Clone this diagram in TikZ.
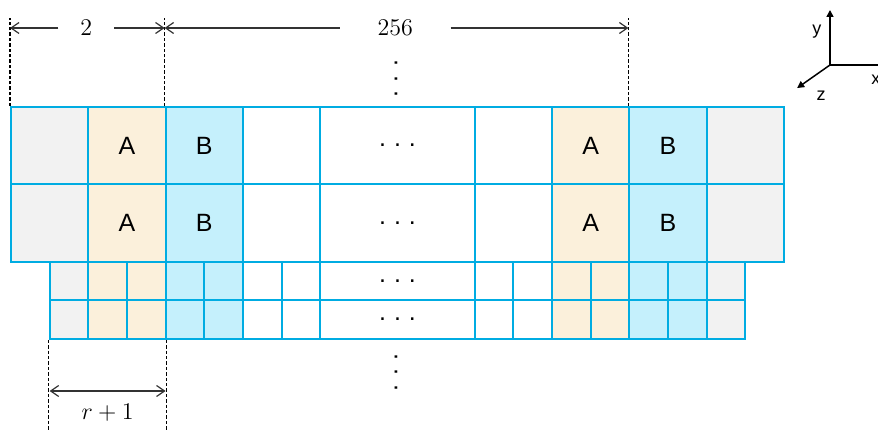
\documentclass[tikz,border=0pt]{standalone}
\usepackage{fontspec}
\usetikzlibrary{arrows.meta}
\newfontfamily\cellsans{Liberation Sans}
\definecolor{gridblue}{RGB}{0,172,226}
\definecolor{sandfill}{RGB}{251,240,219}
\definecolor{bluefill}{RGB}{197,240,252}
\definecolor{greyfill}{RGB}{242,242,242}
\newcommand{\rowdots}{.\hspace{4pt}.\hspace{4pt}.}
\tikzset{
  cell/.style={draw=gridblue, line width=1pt, inner sep=0pt, font=\cellsans\fontsize{12.5}{15}\selectfont},
  greycell/.style={cell, fill=greyfill},
  sandcell/.style={cell, fill=sandfill},
  bluecell/.style={cell, fill=bluefill},
  plaincell/.style={cell, fill=white},
  dimline/.style={line width=0.6pt, dash pattern=on 1.7pt off 1pt},
  dimarrow/.style={-{Straight Barb[length=4pt,width=5.5pt]}, line width=0.6pt, draw=black!80},
  dimboth/.style={{Straight Barb[length=4pt,width=5.5pt]}-{Straight Barb[length=4pt,width=5.5pt]}, line width=0.6pt, draw=black!80},
  dimlabel/.style={inner sep=0pt, font=\fontsize{12}{14}\selectfont},
  axis/.style={-{Triangle[length=3.5pt,width=3.5pt]}, line width=0.75pt},
  axislabel/.style={inner sep=0pt, font=\cellsans\fontsize{9}{11}\selectfont},
  dotcol/.style={inner sep=0pt, rotate=90, font=\cellsans\fontsize{12.5}{15}\selectfont}
}
\begin{document}
\begin{tikzpicture}[x=19.325pt, y=-19.325pt]
\useasboundingbox (-0.2846,-2.7684) rectangle (22.432,8.4347);
% two full-height rows
\foreach \row/\yc in {1/1, 2/3}
  \foreach \col/\xc/\w/\kind/\txt in {gl/1/2/greycell/{}, al/3/2/sandcell/A, bl/5/2/bluecell/B, el/7/2/plaincell/{}, mid/10/4/plaincell/\rowdots, er/13/2/plaincell/{}, ar/15/2/sandcell/A, br/17/2/bluecell/B, gr/19/2/greycell/{}}
    \node[\kind, minimum width=\w*19.325pt, minimum height=38.65pt] (t\row\col) at (\xc,\yc) {\txt};
% two half-height rows
\foreach \row/\yc in {3/4.5, 4/5.5}
  \foreach \xc/\w/\kind/\txt [count=\k] in {1.5/1/greycell/{}, 2.5/1/sandcell/{}, 3.5/1/sandcell/{}, 4.5/1/bluecell/{}, 5.5/1/bluecell/{}, 6.5/1/plaincell/{}, 7.5/1/plaincell/{}, 10/4/plaincell/\rowdots, 12.5/1/plaincell/{}, 13.5/1/plaincell/{}, 14.5/1/sandcell/{}, 15.5/1/sandcell/{}, 16.5/1/bluecell/{}, 17.5/1/bluecell/{}, 18.5/1/greycell/{}}
    \node[\kind, minimum width=\w*19.325pt, minimum height=19.325pt] (b\row-\k) at (\xc,\yc) {\txt};
% more rows above and below
\node[dotcol] (vtop) at (9.96,-0.725) {.\hspace{4.3pt}.\hspace{4.3pt}.};
\node[dotcol] (vbot) at (9.96,6.865) {.\hspace{4.3pt}.\hspace{4.3pt}.};
% widths on top
\coordinate (topend) at (0,-2.303);
\draw[dimline] (t1gl.north west) -- (t1gl.north west |- topend);
\draw[dimline] (t1bl.north west) -- (t1bl.north west |- topend);
\draw[dimline] (t1br.north west) -- (t1br.north west |- topend);
\node[dimlabel, minimum width=27.5pt] (two) at (1.95,-2.044) {$2$};
\draw[dimarrow] (two.west) -- (two.west -| t1gl.north west);
\draw[dimarrow] (two.east) -- (two.east -| t1bl.north west);
\node[dimlabel, minimum width=55pt] (span) at (9.94,-2.044) {$256$};
\draw[dimarrow] (span.west) -- (span.west -| t1bl.north west);
\draw[dimarrow] (span.east) -- (span.east -| t1br.north west);
% width at the bottom
\coordinate (lowend) at (0,8.38);
\draw[dimline] (b4-1.south west) -- (b4-1.south west |- lowend);
\draw[dimline] (b4-3.south east) -- (b4-3.south east |- lowend);
\coordinate (rl) at (1,7.348);
\coordinate (rr) at (4,7.348);
\draw[dimboth] (rl) -- (rr);
\node[dimlabel] (rone) at (2.5,7.917) {$r+1$};
% axes
\coordinate (o) at (21.19,-1.087);
\coordinate (yend) at (21.19,-2.51);
\coordinate (xend) at (22.45,-1.087);
\coordinate (zend) at (20.34,-0.49);
\draw[axis] (o) -- (yend);
\draw[line width=0.75pt] (o) -- (xend);
\draw[axis] (o) -- (zend);
\node[axislabel] (ylab) at (20.85,-1.94) {y};
\node[axislabel] (zlab) at (20.96,-0.285) {z};
\node[axislabel] (xlab) at (22.38,-0.70) {x};
\end{tikzpicture}
\end{document}
